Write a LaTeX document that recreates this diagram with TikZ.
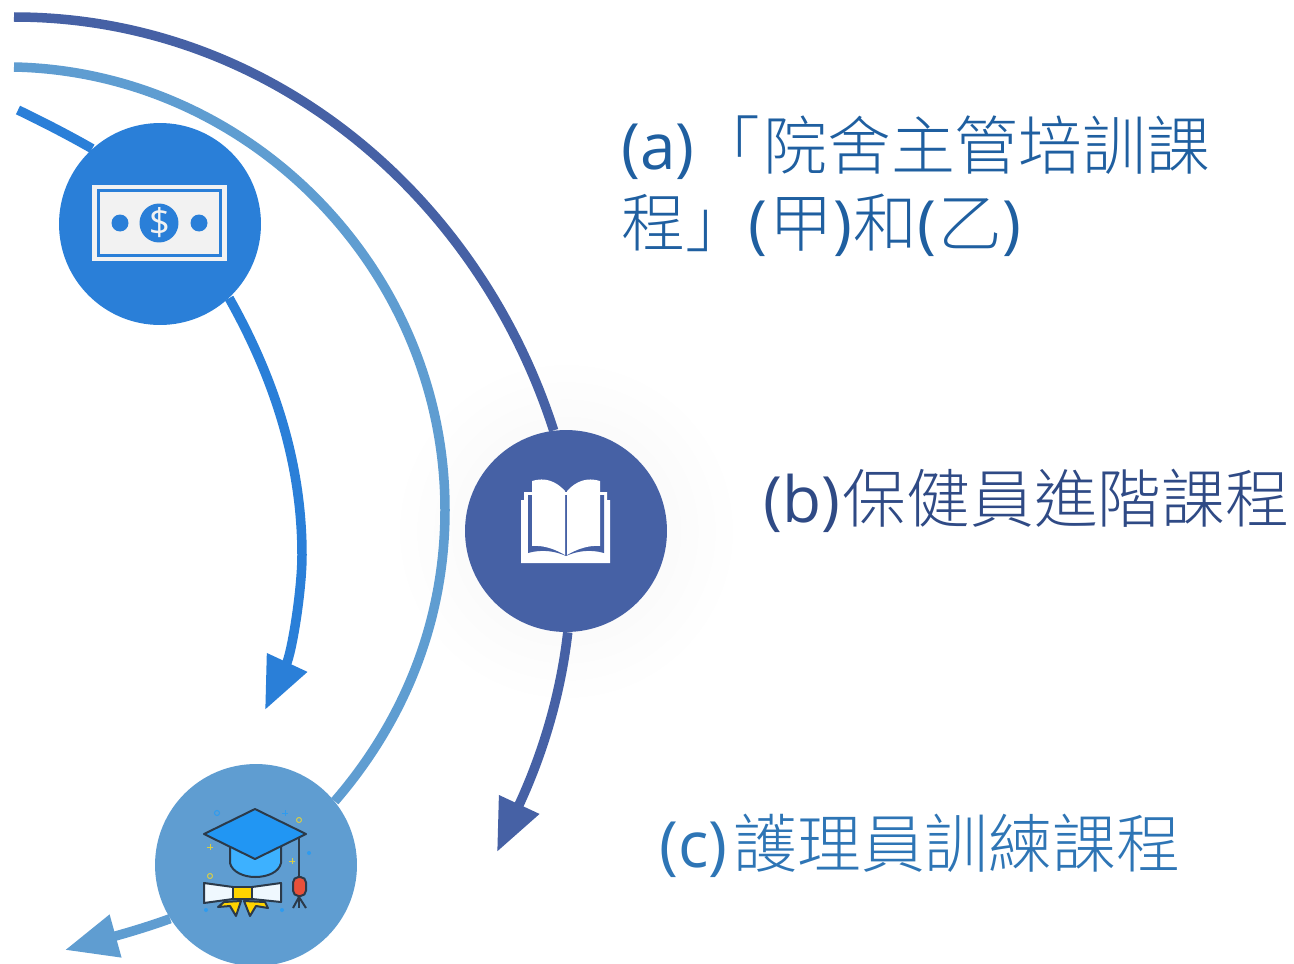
\documentclass[tikz,border=0pt]{standalone}
\usepackage{fontspec}
\setmainfont{Open Sans}
\newfontfamily\cjk{Noto Sans CJK TC Light}
\usetikzlibrary{arrows.meta, backgrounds, positioning}
\definecolor{moneyblue}{HTML}{2A7FD8}
\definecolor{lightblue}{HTML}{5F9DD1}
\definecolor{darkblue}{HTML}{4661A5}
\definecolor{capink}{HTML}{2B3A4A}
\definecolor{bill}{HTML}{F2F2F2}
\definecolor{inka}{HTML}{1F5FA0}
\definecolor{inkb}{HTML}{2F4A85}
\definecolor{inkc}{HTML}{2E75B5}
\definecolor{capboard}{HTML}{2196F3}
\definecolor{capbody}{HTML}{3DB1FF}
\definecolor{capgold}{HTML}{FFD400}
\definecolor{captassel}{HTML}{E8503A}
\definecolor{capscroll}{HTML}{EFF8FE}
\definecolor{capspark}{HTML}{2E9BEF}
\definecolor{capring}{HTML}{D9CE45}
\tikzstyle{course}=[line width=0.19cm, >={Triangle[length=1.05cm,width=0.84cm]}]
\tikzstyle{iconnode}=[circle, minimum size=4.04cm, inner sep=0pt]
\tikzstyle{title}=[anchor=west, align=left, inner sep=0pt, font=\fontsize{36.3}{43.6}\selectfont]
\tikzstyle{capline}=[draw=capink, line width=0.04cm, line join=round]

\begin{document}
\begin{tikzpicture}[x=0.02cm, y=-0.02cm]
  \useasboundingbox (0,0) rectangle (1294,963);
  \coordinate (moneystart) at (18,110);
  \coordinate (moneyend) at (265,710);
  \coordinate (lightstart) at (14,67);
  \coordinate (lightend) at (65,950);
  \coordinate (darkstart) at (14,17);
  \coordinate (darkend) at (497,852);
  \node[iconnode, fill=moneyblue] (money) at (160,224) {};
  \node[iconnode, fill=darkblue] (book) at (566,531) {};
  \node[iconnode, fill=lightblue] (cap) at (256,865) {};
  \begin{scope}[on background layer]
    \shade[inner color=black!4, outer color=white] (book) circle (3.5cm);
    \draw[course, moneyblue] (moneystart) .. controls (45,123) and (70,136) .. (money.132);
    \draw[course, moneyblue, ->] (money.-47) .. controls (278,385) and (302,470) .. (302,555)
      .. controls (302,590) and (292,652) .. (moneyend);
    \draw[course, lightblue] (lightstart) .. controls (250,72) and (445,270) .. (445,510)
      .. controls (445,620) and (405,720) .. (cap.39);
    \draw[course, lightblue, ->] (cap.212) .. controls (150,926) and (130,932) .. (lightend);
    \draw[course, darkblue] (darkstart) .. controls (266,17) and (477,192) .. (book.97);
    \draw[course, darkblue, ->] (book.-89) .. controls (560,700) and (540,760) .. (darkend);
  \end{scope}

  % bill
  \fill[bill] (92,185) rectangle (227,261);
  \draw[moneyblue, line width=0.06cm] (98.5,190.5) rectangle (220.5,255.5);
  \fill[moneyblue] (159,223) circle (0.39cm);
  \foreach \dotx in {120,199}
    \fill[moneyblue] (\dotx,223) circle (0.17cm);
  \node[text=bill, font=\fontsize{21}{21}\selectfont, inner sep=0pt] (dollar) at (159.5,223) {\$};

  % book
  \fill[white] (521,563) -- (521,500) -- (524,500) -- (524,492) -- (607,492) -- (607,500) -- (610,500) -- (610,563) -- cycle;
  \fill[darkblue] (528,495) -- (528,553) .. controls (542,549) and (555,551) .. (566,556)
    .. controls (577,551) and (590,549) .. (604,553) -- (604,495) -- cycle;
  \fill[white] (532,481) .. controls (545,477) and (556,481) .. (565,491) -- (565,555)
    .. controls (555,549) and (543,545) .. (532,546) -- cycle;
  \fill[white] (600,481) .. controls (587,477) and (576,481) .. (567,491) -- (567,555)
    .. controls (577,549) and (589,545) .. (600,546) -- cycle;

  % graduation cap
  \path[capline, fill=capscroll] (204,883) -- (233,887) -- (252,887) -- (281,883) -- (281,902) -- (252,899) -- (233,899) -- (204,903) -- cycle;
  \path[capline, fill=capgold] (218,907) -- (224,902) -- (241,901) -- (236,916) -- (230,906) -- cycle;
  \path[capline, fill=capgold] (244,901) -- (265,902) -- (268,908) -- (256,906) -- (250,916) -- cycle;
  \path[capline, fill=capgold] (233,887) rectangle (252,899);
  \path[capline, fill=capbody] (230,845) -- (230,863) .. controls (232,872) and (244,877) .. (255,877)
    .. controls (268,877) and (279,872) .. (281,863) -- (281,845) -- cycle;
  \path[capline, fill=capboard] (204,834) -- (255,809) -- (306,834) -- (255,859) -- cycle;
  \draw[capline] (299,838) -- (299,877);
  \path[capline, fill=captassel, rounded corners=0.11cm] (293,877) rectangle (306,896);
  \foreach \legx in {293,299,306}
    \draw[capline] (299,897) -- (\legx,908);
  \foreach \ringx/\ringy/\ringcol in {299/820/capring, 210/876/capring, 217/813/capspark}
    \draw[\ringcol, line width=0.02cm] (\ringx,\ringy) circle (0.05cm);
  \foreach \plusx/\plusy/\pluscol in {285/813/capspark, 210/847/capring, 292/861/capring}
    \draw[\pluscol, line width=0.02cm] (\plusx-3,\plusy) -- (\plusx+3,\plusy) (\plusx,\plusy-3) -- (\plusx,\plusy+3);
  \foreach \spotx/\spoty in {309/853, 206/910, 282/910}
    \fill[capspark] (\spotx,\spoty) circle (0.04cm);

  \node[title, text=inka] (titlea) at (621,186) {(a){\cjk \hspace{1.3pt}「\hspace{1.7pt}院舍主管培訓課}\\{\cjk 程」}(\hspace{1pt}{\cjk 甲})\hspace{1pt}{\cjk 和}(\hspace{1pt}{\cjk 乙})};
  \node[title, text=inkb] (titleb) at (763,501) {(b)\hspace{1.5pt}{\cjk 保健員進階課程}};
  \node[title, text=inkc] (titlec) at (659,846) {(c)\hspace{3.5pt}{\cjk 護理員訓練課程}};
\end{tikzpicture}
\end{document}
